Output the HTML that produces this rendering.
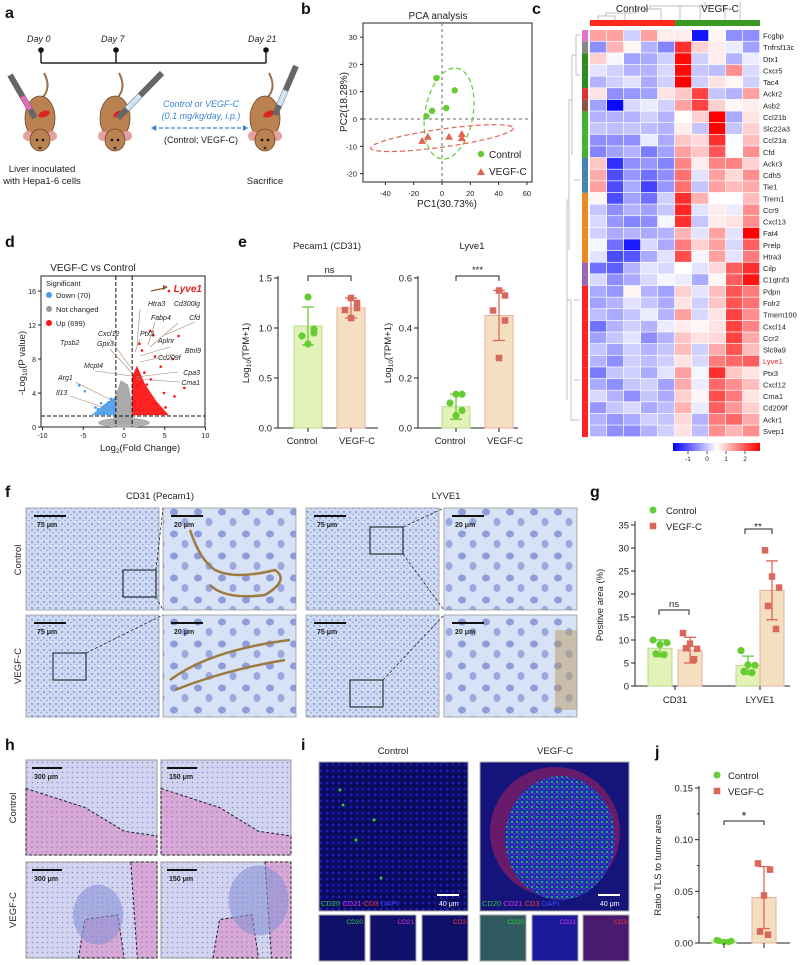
<!DOCTYPE html>
<html><head><meta charset="utf-8"><style>
body{margin:0;background:#fff}
svg{display:block;font-family:"Liberation Sans",Arial,sans-serif}
</style></head><body>
<svg id="fig" width="800" height="965" viewBox="0 0 800 965" xmlns="http://www.w3.org/2000/svg">
<defs>
<pattern id="ihc" width="6" height="6" patternUnits="userSpaceOnUse"><rect width="6" height="6" fill="#cfdbf3"/><circle cx="2" cy="2" r="0.9" fill="#6a7fcc"/><circle cx="5" cy="4.5" r="0.7" fill="#8395d6"/></pattern>
<pattern id="ihcz" width="24" height="22" patternUnits="userSpaceOnUse"><rect width="24" height="22" fill="#d8e2f6"/><ellipse cx="6" cy="6" rx="4" ry="3.5" fill="#8d9ddc"/><ellipse cx="17" cy="16" rx="3.5" ry="4" fill="#9aa8e0"/></pattern>
<pattern id="he" width="5" height="5" patternUnits="userSpaceOnUse"><rect width="5" height="5" fill="#d8a8d6"/><circle cx="2" cy="2" r="0.8" fill="#a07ac4"/></pattern>
<pattern id="heb" width="5" height="5" patternUnits="userSpaceOnUse"><rect width="5" height="5" fill="#d2d4ef"/><circle cx="2.5" cy="2.5" r="0.8" fill="#8a8fd2"/></pattern>
<pattern id="ifc" width="6" height="6" patternUnits="userSpaceOnUse"><rect width="6" height="6" fill="#0a0a5a"/><circle cx="3" cy="3" r="1.5" fill="#1c1cb0"/></pattern>
<pattern id="ifv" width="5" height="5" patternUnits="userSpaceOnUse"><rect width="5" height="5" fill="#1a30b8"/><circle cx="2" cy="2" r="1" fill="#33cc44"/><circle cx="4" cy="4" r="0.7" fill="#d03080"/></pattern>
</defs>
<g id="root"></g>
</svg>
<script>
// ---------- data ----------
const pcaCtrlX=[-11,-7,-4,3,9], pcaCtrlY=[1,3,15,4,10.5];
const pcaVegX=[-14,-10,5,14,14], pcaVegY=[-8,-6.5,-6.5,-5.5,-7];
const genes=["Fcgbp","Tnfrsf13c","Dtx1","Cxcr5","Tac4","Ackr2","Asb2","Ccl21b","Slc22a3","Ccl21a","Cfd","Ackr3","Cdh5","Tie1","Trem1","Ccr9","Cxcl13","Fat4","Prelp","Htra3","Cilp","C1qtnf3","Pdpn","Folr2","Tmem100","Cxcl14","Ccr2","Slc9a9","Lyve1","Ptx3","Cxcl12","Cma1","Cd209f","Ackr1","Svep1"];
const heat=[
[1,1,-0.5,1,0.2,0.2,-2.5,0.1,-1.2,-1.2],[-1.2,0.8,0.1,-0.8,-1.3,2.2,0.5,0.2,-0.2,-1],[0.5,-0.1,-1,-0.9,-0.5,2.6,-0.5,0.2,-0.8,-0.2],[-0.3,-0.5,-0.8,-0.8,-0.4,2.6,-0.6,-0.7,1.2,-0.4],[-0.8,-0.5,-0.3,-0.9,-0.5,2.7,-0.5,0.3,0.1,-0.5],
[0.3,-1.2,-1.1,-1,0.3,0.6,2,-0.6,-0.8,1],[-1,-2.6,-0.4,-0.2,-0.5,1,2,0.5,0.1,0.2],[-0.8,-0.8,-0.8,-0.5,-0.8,0,0.5,2.7,-0.9,0.3],[-0.6,-0.7,-0.6,-0.7,-0.8,0.2,-0.6,2.7,-0.6,0.5],[-1.2,-1.2,-1.2,-0.2,-0.9,0.6,0.4,2.2,0,0.7],
[-1.3,-1,-0.8,-1.4,-1,1,0.6,1.8,0,1.2],[0.6,-2.2,-1.2,-1.1,-1.3,1.3,0.2,1.3,1.3,0.5],[0.9,-1.9,-1.1,-1.5,-1.2,1.5,-0.3,1,0.4,1.2],[1,-1.9,-0.9,-2,-1.1,1.5,-0.6,1,0.7,0.9],[0.1,-1.9,-1,-1.5,-0.5,2.2,0.8,0,0,0.7],
[-0.6,-1.2,-0.8,-1,-0.6,2.3,-0.3,0.2,-0.2,1.2],[-0.4,-1.1,-1.3,-1.2,-0.1,2.2,-0.6,0.2,0.3,1.2],[-0.5,-0.9,-0.8,-0.9,-0.8,0.8,-0.3,1,-0.3,2.7],[-0.1,-1.5,-2.4,-0.4,-0.9,1.4,0.5,1,-0.4,1.7],[-0.3,-1.9,-1.8,-0.9,-0.3,1.9,-0.1,1,-0.3,1.4],
[-1.5,-1.7,-0.8,-0.3,-0.4,0,-0.3,0.4,1.7,2.2],[-0.4,-1.2,-0.9,-0.4,-0.1,-0.2,-0.9,0.1,1.7,2.5],[-0.9,-1.1,0.1,-0.8,-1,0.5,-0.3,0.7,1.8,1.4],[-1,-0.8,-0.3,-0.6,-0.9,0.3,-0.5,0.6,1.8,1.5],[-0.7,-0.9,-0.6,-0.2,-0.8,1,-0.4,0.3,2,1.2],
[-1.5,-0.8,-0.5,-0.8,-0.2,0.2,0.1,0.3,2,1.3],[-1,-0.6,-0.3,-1.2,-0.8,0.6,0.3,0.4,2,0.9],[-0.6,-1,-0.5,-0.8,-0.6,0.7,-0.5,0.9,1.8,0.7],[-0.8,-1.2,-0.5,-0.7,-0.5,0.3,-0.4,1.4,1.6,1.7],[-1.4,-0.6,-0.5,-0.9,-0.3,1,-0.1,2.2,0.6,0.3],
[-0.9,-1.2,-0.6,-0.5,-1,0.9,-0.2,1.6,1.2,0.7],[-0.4,-0.8,-1.2,-0.6,-0.9,0.5,0.1,1.9,1.4,0.3],[-1.1,-0.6,-0.4,-0.9,-0.7,0.8,-0.2,1.7,1.1,0.5],[-0.8,-1.1,-0.9,-0.5,-0.6,0.4,-0.8,1.4,1.6,0.9],[-0.8,-1.2,-1.2,-0.8,-0.5,0.3,-0.7,1.2,0.8,1.2]];
const groupColors=["#dd77cc","#888888","#2e8b22","#2e8b22","#2e8b22","#dd3333","#8c5548","#44b233","#44b233","#44b233","#44b233","#4682b4","#4682b4","#4682b4","#ee8822","#ee8822","#ee8822","#ee8822","#ee8822","#ee8822","#9966bb","#9966bb","#ff2222","#ff2222","#ff2222","#ff2222","#ff2222","#ff2222","#ff2222","#ff2222","#ff2222","#ff2222","#ff2222","#ff2222","#ff2222"];
const volUpX=[5.5,3.2,6.7,3.6,1.9,2.2,3.8,6,4.5,2.5,1.8,1.2,3.3,1.6,2.8,4.9,7.4,6.2,2.8,2.1,1.3,3.9,5.1,2.4];
const volUpY=[16,11.3,10.7,10.8,9.8,9,8.3,8,7.1,6.4,6.1,5.9,5.6,4.9,5,4,4.6,3.6,3.2,3.5,3,2.7,2.3,2];
const volDnX=[-4.8,-5.5,-3.5,-2.8,-2.2,-1.6,-3.2,-2.5,-1.9,-1.3];
const volDnY=[4.2,4.9,2.3,2.8,2.6,3.3,2.1,1.7,2.9,2.2];
const eCats=["Control","VEGF-C"];
const pecMean=[1.02,1.2], pecSd=[0.19,0.1];
const pecCtrl=[1.31,0.99,0.92,0.95,0.84], pecVeg=[1.3,1.25,1.18,1.2,1.1];
const lyvMean=[0.085,0.45], lyvSd=[0.05,0.1];
const lyvCtrl=[0.135,0.135,0.1,0.07,0.05], lyvVeg=[0.55,0.53,0.47,0.43,0.28];
const gCats=["CD31","LYVE1"];
const gMeanCtrl=[8.2,4.5], gMeanVeg=[7.8,20.8], gSdCtrl=[1.8,2], gSdVeg=[2.8,6.4];
const gPtsCtrl=[[10,9,9.4,7,6.8],[7.7,4.6,4.5,3.2,2.9]], gPtsVeg=[[11.5,9.2,8.1,8.2,5.8],[29.5,23.8,21.4,17.4,12.4]];
const jMean=[0.002,0.044], jSd=[0.001,0.03];
const jCtrl=[0.003,0.002,0.001,0.002,0.001], jVeg=[0.077,0.071,0.046,0.011,0.008];
const pcaTicksX=[-40,-20,0,20,40,60], pcaTicksY=[-20,-10,0,10,20,30];

// ---------- helpers ----------
const NS="http://www.w3.org/2000/svg", root=document.getElementById('root');
function el(tag,attrs,parent,txt){const e=document.createElementNS(NS,tag);for(const k in attrs)e.setAttribute(k,attrs[k]);if(txt!==undefined)e.textContent=txt;(parent||root).appendChild(e);return e;}
function G(name){const g=el('g',{});


return g;}
function txt(p,x,y,str,size,extra){return el('text',Object.assign({x:x,y:y,'font-size':size,fill:'#222'},extra||{}),p,str);}
function lin(p,x1,y1,x2,y2,st,w,da){return el('line',{x1:x1,y1:y1,x2:x2,y2:y2,stroke:st||'#222','stroke-width':w||1,'stroke-dasharray':da||'none'},p);}
function sq(p,x,y,s,fill){return el('rect',{x:x-s/2,y:y-s/2,width:s,height:s,fill:fill},p);}
function dot(p,x,y,r,fill){return el('circle',{cx:x,cy:y,r:r,fill:fill},p);}
const GREEN='#66cc33', RED='#e06655', GBAR='#e3f2b8', RBAR='#f4dfc0';

[['a',5,18],['b',301,14],['c',532,14],['d',5,247],['e',238,247],['f',5,497],['g',590,497],['h',5,750],['i',301,750],['j',655,757]].forEach(l=>{
 const t=txt(root,l[1],l[2],l[0],16,{'font-weight':'bold',fill:'#111'});
 
 
});

// ---------- panel a ----------
(function(){const g=G('panel-a-schematic');
 txt(g,27,42,'Day 0',9,{'font-style':'italic'});txt(g,101,42,'Day 7',9,{'font-style':'italic'});txt(g,248,42,'Day 21',9,{'font-style':'italic'});
 lin(g,41,63,266,63,'#222',1.5);[41,116,266].forEach(x=>{lin(g,x,50,x,63,'#222',1.5);dot(g,x,50,2.8,'#111');});
 [[40,128],[115,128],[265,128]].forEach(m=>{const x=m[0],y=m[1];
  el('path',{d:`M${x+2} ${y-30} q10 -10 2 -25`,stroke:'#9c7046','stroke-width':2,fill:'none'},g);
  el('ellipse',{cx:x,cy:y-10,rx:15,ry:22,fill:'#b98250',stroke:'#6d4a2b','stroke-width':0.8},g);
  dot(g,x-12,y+8,5,'#e7a0a0');dot(g,x+12,y+8,5,'#e7a0a0');
  el('ellipse',{cx:x,cy:y+12,rx:10,ry:11,fill:'#b98250',stroke:'#6d4a2b','stroke-width':0.8},g);
  dot(g,x-3,y+12,1.3,'#111');dot(g,x+3,y+12,1.3,'#111');dot(g,x,y+20,1.4,'#333');
  el('ellipse',{cx:x+4,cy:y-14,rx:6,ry:3,fill:'#d22',transform:`rotate(-20 ${x+4} ${y-14})`},g);
 });
 [[10,75,35,118,'#e868b8'],[162,73,118,118,'#cde8f4'],[296,66,275,115,'#cde8f4']].forEach(s=>{
  lin(g,s[0],s[1],s[2],s[3],'#666',6);lin(g,(s[0]+s[2])/2,(s[1]+s[3])/2,s[0]+(s[2]-s[0])*0.8,s[1]+(s[3]-s[1])*0.8,s[4],5);});
 txt(g,201,107,'Control or VEGF-C',9,{'font-style':'italic',fill:'#3a86d4','text-anchor':'middle'});
 txt(g,201,119,'(0.1 mg/kg/day, i.p.)',9,{'font-style':'italic',fill:'#3a86d4','text-anchor':'middle'});
 lin(g,153,128,246,128,'#3a86d4',1.2,'4 2');
 el('path',{d:'M151 128 l5 -3 v6z M248 128 l-5 -3 v6z',fill:'#3a86d4'},g);
 txt(g,201,143,'(Control; VEGF-C)',9,{'text-anchor':'middle'});
 txt(g,42,172,'Liver inoculated',9.5,{'text-anchor':'middle'});txt(g,42,184,'with Hepa1-6 cells',9.5,{'text-anchor':'middle'});
 txt(g,265,184,'Sacrifice',9.5,{'text-anchor':'middle'});
})();

// ---------- panel b PCA ----------
(function(){const g=G('pca-chart');
 const X=v=>442+v*1.415, Y=v=>119-v*2.73;
 txt(g,438,19,'PCA analysis',10,{'text-anchor':'middle'});
 el('rect',{x:363,y:23,width:169,height:159,fill:'none',stroke:'#222','stroke-width':1},g);
 pcaTicksX.forEach(v=>{lin(g,X(v),182,X(v),185);txt(g,X(v),196,String(v),7.5,{'text-anchor':'middle'});});
 pcaTicksY.forEach(v=>{lin(g,360,Y(v),363,Y(v));txt(g,357,Y(v)+3,String(v),7.5,{'text-anchor':'end'});});
 lin(g,X(0),23,X(0),182,'#666',1,'3 3');lin(g,363,Y(0),532,Y(0),'#666',1,'3 3');
 el('ellipse',{cx:X(5),cy:Y(2),rx:24,ry:46,fill:'none',stroke:GREEN,'stroke-width':1.2,'stroke-dasharray':'5 3',transform:`rotate(10 ${X(5)} ${Y(2)})`},g);
 el('ellipse',{cx:X(0),cy:Y(-7),rx:72,ry:9,fill:'none',stroke:RED,'stroke-width':1.2,'stroke-dasharray':'5 3',transform:`rotate(-8 ${X(0)} ${Y(-7)})`},g);
 pcaCtrlX.forEach((v,i)=>{const c=dot(g,X(v),Y(pcaCtrlY[i]),3.2,GREEN);
  
  });
 pcaVegX.forEach((v,i)=>{const x=X(v),y=Y(pcaVegY[i]);const p=el('path',{d:`M${x} ${y-4} l4 7 h-8z`,fill:RED},g);
  
  });
 dot(g,481,154,3.2,GREEN);txt(g,489,158,'Control',10);
 el('path',{d:'M481 168 l4 7 h-8z',fill:RED},g);txt(g,489,175,'VEGF-C',10);
 txt(g,447,207,'PC1(30.73%)',10,{'text-anchor':'middle'});
 txt(g,0,0,'PC2(18.28%)',10,{'text-anchor':'middle',transform:'translate(347 102) rotate(-90)'});
})();

// ---------- panel c heatmap ----------
(function(){const g=G('heatmap');
 const x0=590,cw=17,y0=30,rh=11.63;
 function col(v){v=Math.max(-2.7,Math.min(2.7,v))/2.7;if(v>=0){const k=Math.round(255*(1-v));return `rgb(255,${k},${k})`;}const k=Math.round(255*(1+v));return `rgb(${k},${k},255)`;}
 heat.forEach((row,r)=>{row.forEach((v,c)=>{const rc=el('rect',{x:x0+c*cw,y:y0+r*rh,width:cw-0.7,height:rh-0.7,fill:col(v)},g);
  
  });
  el('rect',{x:582,y:y0+r*rh,width:6,height:rh,fill:groupColors[r]},g);
  txt(g,763,y0+r*rh+8.5,genes[r],7.5,{fill:genes[r]==='Lyve1'?'#e02020':'#222'});});
 el('rect',{x:590,y:20,width:85,height:6,fill:'#ff2a1a'},g);el('rect',{x:675,y:20,width:85,height:6,fill:'#3a9a22'},g);
 el('path',{d:'M598 20 v-4 h17 v4 M606 16 v-3 h30 v-4 h25 v11 M625 13 v7 M650 9 v-3 h55 v-4 M705 2 v4 h20 v14 M680 6 v14 M700 6 v14 M740 2 v18',fill:'none',stroke:'#aaa','stroke-width':0.7},g);
 el('path',{d:'M580 35 h-4 v40 h4 M576 55 h-4 v100 M572 100 h-3 v150 M569 200 h-2 v200 M574 180 h6 M574 300 h6 M574 380 h6 M567 300 h4 v120 h9',fill:'none',stroke:'#aaa','stroke-width':0.7},g);
 txt(g,632,12,'Control',10,{'text-anchor':'middle'});txt(g,720,12,'VEGF-C',10,{'text-anchor':'middle'});
 const lg=el('linearGradient',{id:'hg'},el('defs',{},g));el('stop',{offset:'0','stop-color':'#0000ff'},lg);el('stop',{offset:'0.5','stop-color':'#ffffff'},lg);el('stop',{offset:'1','stop-color':'#ff0000'},lg);
 el('rect',{x:673,y:443,width:87,height:8,fill:'url(#hg)'},g);
 [[-1,688],[0,707],[1,726],[2,745]].forEach(t=>{lin(g,t[1],451,t[1],454,'#555');txt(g,t[1],461,String(t[0]),6.5,{'text-anchor':'middle'});});
})();

// ---------- panel d volcano ----------
(function(){const g=G('volcano-plot');
 const X=v=>124+v*8.15, Y=v=>427-v*8.5;
 txt(g,93,271,'VEGF-C vs Control',10,{'text-anchor':'middle'});
 el('rect',{x:41,y:276,width:164,height:151,fill:'none',stroke:'#222'},g);
 [-10,-5,0,5,10].forEach(v=>{lin(g,X(v),427,X(v),430);txt(g,X(v),438,String(v),7,{'text-anchor':'middle'});});
 [0,4,8,12,16].forEach(v=>{lin(g,38,Y(v),41,Y(v));txt(g,36,Y(v)+3,String(v),7,{'text-anchor':'end'});});
 el('ellipse',{cx:X(0),cy:Y(0.5),rx:26,ry:5,fill:'#b0b0b0'},g);
 el('path',{d:`M${X(-1.3)} ${Y(0.3)} L${X(-1.1)} ${Y(3.5)} L${X(-0.4)} ${Y(5.5)} L${X(0.5)} ${Y(5)} L${X(1)} ${Y(3)} L${X(1)} ${Y(0.3)}z`,fill:'#aaa'},g);
 el('path',{d:`M${X(1)} ${Y(1.4)} L${X(1)} ${Y(6)} L${X(1.6)} ${Y(7.2)} L${X(2.6)} ${Y(5)} L${X(4)} ${Y(3)} L${X(5.5)} ${Y(1.4)}z`,fill:'#f22'},g);
 el('path',{d:`M${X(-1)} ${Y(1.4)} L${X(-1)} ${Y(3.6)} L${X(-2.5)} ${Y(2.6)} L${X(-4)} ${Y(1.4)}z`,fill:'#5aa6ee'},g);
 volUpX.forEach((v,i)=>{const c=dot(g,X(v),Y(volUpY[i]),1.3,'#f11');
  
  });
 volDnX.forEach((v,i)=>{const c=dot(g,X(v),Y(volDnY[i]),1.3,'#4a9bef');
  
  });
 lin(g,X(-1),276,X(-1),427,'#111',1,'4 2');lin(g,X(1),276,X(1),427,'#111',1,'4 2');lin(g,41,Y(1.3),205,Y(1.3),'#111',1,'4 2');
 txt(g,46,286,'Significant',7.5);
 [['#4a9bef','Down (70)',298],['#999','Not changed',312],['#f11','Up (699)',326]].forEach(l=>{dot(g,49,l[2]-3,3,l[0]);txt(g,56,l[2],l[1],7.5);});
 txt(g,202,292,'Lyve1',10,{'font-style':'italic','font-weight':'bold',fill:'#e81e1e','text-anchor':'end'});
 el('path',{d:`M151 291 L165 288`,stroke:'#8b5a2b','stroke-width':1.2},g);el('path',{d:'M168 287 l-5 -2 v5z',fill:'#8b5a2b'},g);
 [['Htra3',148,306],['Cd300lg',200,306],['Fabp4',151,320],['Cfd',200,320],['Cxcl12',98,336],['Ptx3',140,336],['Aplnr',158,343],['Tpsb2',60,345],['Gpx3',97,346],['Btnl9',201,353],['Cd209f',158,360],['Mcpt4',84,368],['Cpa3',200,375],['Arg1',58,380],['Cma1',200,385],['Il13',56,395]].forEach(l=>txt(g,l[1],l[2],l[0],7,{'font-style':'italic','text-anchor':l[1]>180?'end':'start'}));
 el('path',{d:'M140 309 L137 345 M155 322 L148 345 M178 323 L150 347 M195 322 L165 335 M110 339 L131 368 M110 349 L131 372 M140 339 L135 352 M170 347 L140 356 M175 354 L140 362 M95 371 L131 376 M178 372 L136 377 M180 382 L136 379 M75 382 L115 402 M70 396 L105 408',stroke:'#a08870','stroke-width':0.6,fill:'none'},g);
 const xl=txt(g,100,451,'',9.5);xl.innerHTML='Log<tspan font-size="6.5" dy="2">2</tspan><tspan dy="-2">(Fold Change)</tspan>';
 const yl=txt(g,0,0,'',9.5,{transform:'translate(25 395) rotate(-90)'});yl.innerHTML='-Log<tspan font-size="6.5" dy="2">10</tspan><tspan dy="-2">(P value)</tspan>';
})();

// ---------- panel e ----------
function barPanel(name,ax,yTop,yBot,vmax,ticks,fmt,mean,sd,ptsC,ptsV,bx,title,tx,star){
 const g=G(name);const Y=v=>yBot-(v/vmax)*(yBot-yTop);
 txt(g,tx,249,title,9.5,{'text-anchor':'middle'});
 lin(g,ax,yTop-2,ax,yBot);lin(g,ax,yBot,ax+100,yBot);
 ticks.forEach(v=>{lin(g,ax-4,Y(v),ax,Y(v));txt(g,ax-6,Y(v)+3.5,fmt(v),9.5,{'text-anchor':'end'});});
 const fills=[GBAR,RBAR],strokes=['#b8dc88','#eab0a0'],cols=[GREEN,RED];
 [0,1].forEach(i=>{const b=el('rect',{x:bx[i]-14,y:Y(mean[i]),width:28,height:yBot-Y(mean[i]),fill:fills[i],stroke:strokes[i],'stroke-width':1},g);
  
  
  lin(g,bx[i],Y(mean[i]+sd[i]),bx[i],Y(Math.max(0,mean[i]-sd[i])),cols[i],1.3);
  lin(g,bx[i]-6,Y(mean[i]+sd[i]),bx[i]+6,Y(mean[i]+sd[i]),cols[i],1.3);lin(g,bx[i]-6,Y(Math.max(0,mean[i]-sd[i])),bx[i]+6,Y(Math.max(0,mean[i]-sd[i])),cols[i],1.3);
  lin(g,bx[i],yBot,bx[i],yBot+4);txt(g,bx[i]+(i?6:-6),yBot+16,eCats[i],9.5,{'text-anchor':'middle'});});
 const off=[0,6,-6,6,0];
 ptsC.forEach((v,k)=>dot(g,bx[0]+(k===0?0:off[k]),Y(v),3.6,GREEN));
 ptsV.forEach((v,k)=>sq(g,bx[1]+off[k],Y(v),6.5,'#d9685a'));
 el('path',{d:`M${bx[0]} ${yTop+3} v-5 h${bx[1]-bx[0]} v5`,fill:'none',stroke:'#222'},g);
 txt(g,(bx[0]+bx[1])/2,yTop-5,star,9.5,{'text-anchor':'middle'});
 return g;}
(function(){
 const g1=barPanel('pecam1-bar-chart',278,278,428,1.5,[0,0.5,1,1.5],v=>v.toFixed(1),pecMean,pecSd,pecCtrl,pecVeg,[308,351],'Pecam1 (CD31)',327,'ns');
 const y1=txt(g1,0,0,'',9.5,{transform:'translate(249 353) rotate(-90)','text-anchor':'middle'});y1.innerHTML='Log<tspan font-size="6.5" dy="2">10</tspan><tspan dy="-2">(TPM+1)</tspan>';
 const g2=barPanel('lyve1-bar-chart',418,278,428,0.6,[0,0.2,0.4,0.6],v=>v.toFixed(1),lyvMean,lyvSd,lyvCtrl,lyvVeg,[456,499],'Lyve1',472,'***');
 const y2=txt(g2,0,0,'',9.5,{transform:'translate(391 353) rotate(-90)','text-anchor':'middle'});y2.innerHTML='Log<tspan font-size="6.5" dy="2">10</tspan><tspan dy="-2">(TPM+1)</tspan>';
})();

// ---------- panel f ----------
(function(){const g=G('ihc-micrographs');
 txt(g,160,499,'CD31 (Pecam1)',9.5,{'text-anchor':'middle'});txt(g,446,499,'LYVE1',9.5,{'text-anchor':'middle'});
 txt(g,0,0,'Control',9.5,{transform:'translate(21 560) rotate(-90)','text-anchor':'middle'});
 txt(g,0,0,'VEGF-C',9.5,{transform:'translate(21 666) rotate(-90)','text-anchor':'middle'});
 const xs=[[26,159],[163,296],[306,439],[444,577]],ys=[[508,610],[615,717]];
 ys.forEach((yy,r)=>xs.forEach((xx,c)=>{const im=el('rect',{x:xx[0],y:yy[0],width:xx[1]-xx[0],height:yy[1]-yy[0],fill:c%2?'url(#ihcz)':'url(#ihc)',stroke:'#999','stroke-width':0.8},g);
  
  
  lin(g,xx[0]+8,yy[0]+8,xx[0]+40,yy[0]+8,'#111',2);txt(g,xx[0]+11,yy[0]+19,c%2?'20 μm':'75 μm',7,{'font-weight':'bold'});}));
 el('path',{d:'M190 530 q10 30 25 40 q20 10 60 0 q15 10 -10 25 q-40 5 -55 -10',stroke:'#9c7a40','stroke-width':2.5,fill:'none'},g);
 el('path',{d:'M170 680 q40 -30 120 -40 M175 690 q50 -20 110 -30',stroke:'#9c7a40','stroke-width':2.5,fill:'none'},g);
 el('rect',{x:555,y:630,width:22,height:80,fill:'#b89a60',opacity:0.5},g);
 [[123,570,33,27],[53,653,33,27],[370,527,33,27],[350,680,33,27]].forEach(b=>el('rect',{x:b[0],y:b[1],width:b[2],height:b[3],fill:'none',stroke:'#111'},g));
 el('path',{d:'M156 570 L163 508 M156 597 L163 610 M86 653 L163 615 M403 527 L444 508 M403 554 L444 610 M383 680 L444 615',stroke:'#111','stroke-width':0.7,'stroke-dasharray':'3 2',fill:'none'},g);
})();

// ---------- panel g ----------
(function(){const g=G('positive-area-chart');const Y=v=>686-v*4.6;const ax=635;
 lin(g,ax,521,ax,686);lin(g,ax,686,790,686);
 [0,5,10,15,20,25,30,35].forEach(v=>{lin(g,ax-4,Y(v),ax,Y(v));txt(g,ax-6,Y(v)+3.5,String(v),9.5,{'text-anchor':'end'});});
 txt(g,0,0,'Positive area (%)',9.5,{transform:'translate(603 605) rotate(-90)','text-anchor':'middle'});
 const cx=[[660,690],[748,772]];
 gCats.forEach((c,i)=>{
  [[gMeanCtrl,gSdCtrl,gPtsCtrl,GBAR,'#b8dc88',GREEN],[gMeanVeg,gSdVeg,gPtsVeg,RBAR,'#eab0a0',RED]].forEach((s,j)=>{const x=cx[i][j],m=s[0][i],sd=s[1][i];
   const b=el('rect',{x:x-12,y:Y(m),width:24,height:686-Y(m),fill:s[3],stroke:s[4]},g);
   
   
   lin(g,x,Y(m+sd),x,Y(m-sd),s[5],1.3);lin(g,x-6,Y(m+sd),x+6,Y(m+sd),s[5],1.3);lin(g,x-6,Y(m-sd),x+6,Y(m-sd),s[5],1.3);
   const off=[-7,0,7,-4,4];s[2][i].forEach((v,k)=>j?sq(g,x+off[k],Y(v),6.5,'#d9685a'):dot(g,x+off[k],Y(v),3.6,GREEN));});
  lin(g,(cx[i][0]+cx[i][1])/2,686,(cx[i][0]+cx[i][1])/2,690);
  txt(g,(cx[i][0]+cx[i][1])/2,703,c,9.5,{'text-anchor':'middle'});});
 el('path',{d:'M659 615 v-5 h30 v5',fill:'none',stroke:'#222'},g);txt(g,674,607,'ns',9.5,{'text-anchor':'middle'});
 el('path',{d:'M745 534 v-5 h27 v5',fill:'none',stroke:'#222'},g);txt(g,758,530,'**',10,{'text-anchor':'middle'});
 dot(g,653,510,3.5,GREEN);txt(g,666,514,'Control',9.5);sq(g,653,526,6.5,'#d9685a');txt(g,666,530,'VEGF-C',9.5);
})();

// ---------- panel h ----------
(function(){const g=G('he-micrographs');
 txt(g,0,0,'Control',9.5,{transform:'translate(16 808) rotate(-90)','text-anchor':'middle'});
 txt(g,0,0,'VEGF-C',9.5,{transform:'translate(16 910) rotate(-90)','text-anchor':'middle'});
 [[26,157],[161,291]].forEach((xx,c)=>[[760,855],[862,958]].forEach((yy,r)=>{
  const im=el('rect',{x:xx[0],y:yy[0],width:xx[1]-xx[0],height:yy[1]-yy[0],fill:'url(#heb)',stroke:'#999'},g);
  
  
  const w=xx[1]-xx[0],h=yy[1]-yy[0],x=xx[0],y=yy[0];
  if(r===0) el('path',{d:`M${x} ${y+h*0.3} L${x+w*0.45} ${y+h*0.5} L${x+w*0.75} ${y+h*0.75} L${x+w} ${y+h*0.8} L${x+w} ${y+h} L${x} ${y+h}z`,fill:'url(#he)',stroke:'#222','stroke-dasharray':'3 2'},g);
  else el('path',{d:`M${x+w*0.4} ${y+h} L${x+w*0.45} ${y+h*0.6} L${x+w*0.7} ${y+h*0.55} L${x+w*0.75} ${y+h} z M${x+w*0.8} ${y} L${x+w} ${y} L${x+w} ${y+h} L${x+w*0.85} ${y+h}z`,fill:'url(#he)',stroke:'#222','stroke-dasharray':'3 2'},g);
  if(r===1&&c===0) el('ellipse',{cx:x+w*0.55,cy:y+h*0.55,rx:25,ry:30,fill:'#8a93d6',opacity:0.6},g);
  if(r===1&&c===1) el('ellipse',{cx:x+w*0.75,cy:y+h*0.4,rx:30,ry:35,fill:'#8a93d6',opacity:0.6},g);
  lin(g,x+6,y+8,x+36,y+8,'#111',2);txt(g,x+8,y+19,c?'150 μm':'300 μm',7,{'font-weight':'bold'});}));
})();

// ---------- panel i ----------
(function(){const g=G('if-micrographs');
 txt(g,393,754,'Control',9.5,{'text-anchor':'middle'});txt(g,555,754,'VEGF-C',9.5,{'text-anchor':'middle'});
 [[319,'url(#ifc)'],[480,'#14147a']].forEach((m,i)=>{const im=el('rect',{x:m[0],y:762,width:149,height:149,fill:m[1],stroke:'#aaa'},g);
  
  
  if(i){el('circle',{cx:m[0]+75,cy:832,r:65,fill:'#a02060',opacity:0.6},g);el('ellipse',{cx:m[0]+80,cy:838,rx:55,ry:62,fill:'url(#ifv)'},g);}
  else{[[340,790],[356,840],[381,878],[343,805],[374,820]].forEach(p=>dot(g,p[0],p[1],1.5,'#3c3'));}
  lin(g,m[0]+118,895,m[0]+140,895,'#fff',2);txt(g,m[0]+120,906,'40 μm',7,{fill:'#fff'});
  const l=txt(g,m[0]+2,906,'',7.5);l.innerHTML='<tspan fill="#3c3">CD20</tspan> <tspan fill="#d3d">CD21</tspan> <tspan fill="#f33">CD3</tspan> <tspan fill="#44f">DAPI</tspan>';});
 [[319,'#10106a','CD20','#3c3'],[370,'#10106a','CD21','#d3d'],[422,'#10106a','CD3','#f33'],[480,'#2e5a60','CD20','#3c3'],[532,'#1a1a9a','CD21','#d3d'],[583,'#4a1a70','CD3','#f33']].forEach(s=>{
  const im=el('rect',{x:s[0],y:915,width:46,height:46,fill:s[1],stroke:'#aaa'},g);
  
  
  txt(g,s[0]+44,924,s[2],6.5,{fill:s[3],'text-anchor':'end'});});
})();

// ---------- panel j ----------
(function(){const g=G('tls-ratio-chart');const Y=v=>943-v*(155/0.15);const ax=699;const bx=[724,764];
 lin(g,ax,786,ax,943);lin(g,ax,943,790,943);
 [0,0.05,0.1,0.15].forEach(v=>{lin(g,ax-4,Y(v),ax,Y(v));txt(g,ax-6,Y(v)+3.5,v.toFixed(2),9.5,{'text-anchor':'end'});});
 [0.025,0.075,0.125].forEach(v=>lin(g,ax-2,Y(v),ax,Y(v)));
 txt(g,0,0,'Ratio TLS to tumor area',9.5,{transform:'translate(661 865) rotate(-90)','text-anchor':'middle'});
 [[jMean[0],jSd[0],GBAR,'#b8dc88',GREEN,jCtrl],[jMean[1],jSd[1],RBAR,'#eab0a0',RED,jVeg]].forEach((s,i)=>{const x=bx[i];
  const b=el('rect',{x:x-12,y:Y(s[0]),width:24,height:943-Y(s[0]),fill:s[2],stroke:s[3]},g);
  
  
  lin(g,x,Y(s[0]+s[1]),x,Y(Math.max(0,s[0]-s[1])),s[4],1.3);lin(g,x-6,Y(s[0]+s[1]),x+6,Y(s[0]+s[1]),s[4],1.3);lin(g,x-6,Y(s[0]-s[1]),x+6,Y(s[0]-s[1]),s[4],1.3);
  const off=[-6,6,0,-4,4];s[5].forEach((v,k)=>i?sq(g,x+off[k],Y(v),6.5,'#d9685a'):dot(g,x+off[k]*1.2,Y(v),3.2,GREEN));
  lin(g,x,943,x,948);});
 el('path',{d:'M724 825 v-4 h40 v4',fill:'none',stroke:'#222'},g);txt(g,744,820,'*',12,{'text-anchor':'middle'});
 dot(g,717,775,3.5,GREEN);txt(g,728,779,'Control',9.5);sq(g,717,791,6.5,'#d9685a');txt(g,728,795,'VEGF-C',9.5);
})();
</script>
</body></html>
